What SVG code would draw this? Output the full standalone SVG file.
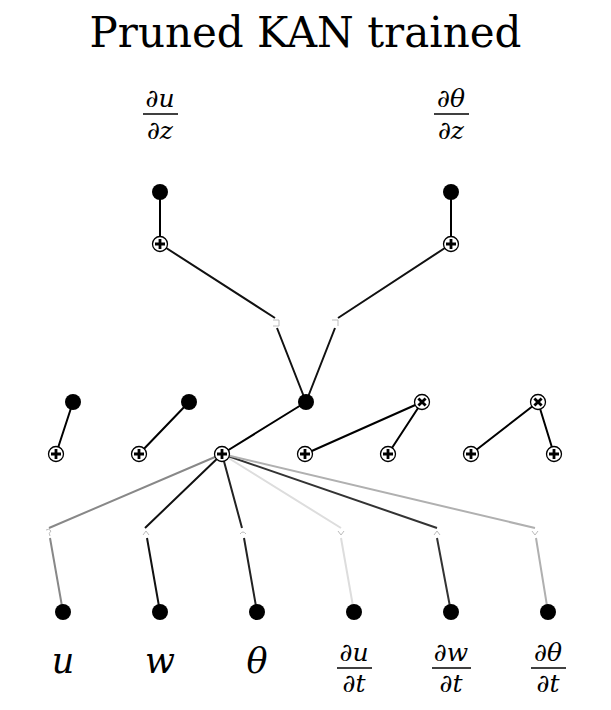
<svg xmlns="http://www.w3.org/2000/svg" width="611" height="710" viewBox="0 0 611 710">
<style>
.title{font-family:"DejaVu Serif","Liberation Serif",serif;font-size:42px;fill:#000}
.var{font-family:"DejaVu Serif","Liberation Serif",serif;font-style:italic;font-size:35px;fill:#000}
.frac{font-family:"DejaVu Serif","Liberation Serif",serif;font-style:italic;font-size:25px;fill:#000}
.bar{stroke:#000;stroke-width:1.6}
.dot{fill:#000}
.op{fill:#fff;stroke:#000;stroke-width:1.3}
.sym{stroke:#000;stroke-width:2.8;stroke-linecap:butt}
.e{fill:none;stroke-width:2}
.act{fill:none;stroke:#bbb;stroke-width:1}
</style>
<defs>
<g id="plus"><circle class="op" r="7.5"/><path class="sym" d="M-5,0H5M0,-5V5"/></g>
<g id="times"><circle class="op" r="7.5"/><path class="sym" d="M-3.6,-3.6L3.6,3.6M-3.6,3.6L3.6,-3.6"/></g>
</defs>
<rect width="611" height="710" fill="#fff"/>
<text class="title" x="305.5" y="47" text-anchor="middle">Pruned KAN trained</text>

<g id="connectors">
<path class="e" stroke="#888" d="M63,612L50,538M49,528L222,454"/>
<path class="e" stroke="#111" d="M160,612L147,538M145,528L222,454"/>
<path class="e" stroke="#222" d="M257,612L244,538M242,528L222,454"/>
<path class="e" stroke="#ddd" d="M354,612L341,538M341,528L222,454"/>
<path class="e" stroke="#333" d="M451,612L437,538M437,528L222,454"/>
<path class="e" stroke="#b0b0b0" d="M548,612L536,538M535,528L222,454"/>
<path class="e" stroke="#000" d="M56,454L73,402M139,454L189,402M222,454L306,402M305,454L422,402M388,454L422,402M471,454L538,402M554,454L538,402"/>
<path class="e" stroke="#111" d="M306,402L277,328M275,318L160,244M306,402L335,328M338,318L451,244"/>
<path class="e" stroke="#000" d="M160,244L160,192M451,244L451,192"/>
<path class="act" d="M46,530q3,-2 5,1q-3,2 -1,5"/>
<path class="act" d="M143,535l3,-4l3,4"/>
<path class="act" d="M240,534q3,-4 6,0"/>
<path class="act" d="M338,531l3,4l3,-4"/>
<path class="act" d="M434,535l3,-4l3,4"/>
<path class="act" d="M532,531l3,4l3,-4"/>
<path class="act" d="M273,320h6v6h-6"/>
<path class="act" d="M332,320h6v6"/>
</g>

<g id="in-u"><circle class="dot" cx="63" cy="612" r="8"/></g>
<g id="in-w"><circle class="dot" cx="160" cy="612" r="8"/></g>
<g id="in-theta"><circle class="dot" cx="257" cy="612" r="8"/></g>
<g id="in-dudt"><circle class="dot" cx="354" cy="612" r="8"/></g>
<g id="in-dwdt"><circle class="dot" cx="451" cy="612" r="8"/></g>
<g id="in-dthdt"><circle class="dot" cx="548" cy="612" r="8"/></g>

<g id="s1"><use href="#plus" x="56" y="454"/></g>
<g id="s2"><use href="#plus" x="139" y="454"/></g>
<g id="s3"><use href="#plus" x="222" y="454"/></g>
<g id="s4"><use href="#plus" x="305" y="454"/></g>
<g id="s5"><use href="#plus" x="388" y="454"/></g>
<g id="s6"><use href="#plus" x="471" y="454"/></g>
<g id="s7"><use href="#plus" x="554" y="454"/></g>

<g id="h1"><circle class="dot" cx="73" cy="402" r="8"/></g>
<g id="h2"><circle class="dot" cx="189" cy="402" r="8"/></g>
<g id="h3"><circle class="dot" cx="306" cy="402" r="8"/></g>
<g id="m1"><use href="#times" x="422" y="402"/></g>
<g id="m2"><use href="#times" x="538" y="402"/></g>

<g id="t1"><use href="#plus" x="160" y="244"/></g>
<g id="t2"><use href="#plus" x="451" y="244"/></g>
<g id="out1"><circle class="dot" cx="160" cy="192" r="8"/></g>
<g id="out2"><circle class="dot" cx="451" cy="192" r="8"/></g>

<g id="label-dudz">
<text class="frac" x="160" y="107" text-anchor="middle">∂u</text>
<line class="bar" x1="143" y1="114" x2="178" y2="114"/>
<text class="frac" x="160" y="139" text-anchor="middle">∂z</text>
</g>
<g id="label-dthdz">
<text class="frac" x="451" y="107" text-anchor="middle">∂θ</text>
<line class="bar" x1="434" y1="114" x2="469" y2="114"/>
<text class="frac" x="451" y="139" text-anchor="middle">∂z</text>
</g>

<g id="label-u"><text class="var" x="63" y="673" text-anchor="middle">u</text></g>
<g id="label-w"><text class="var" x="160" y="673" text-anchor="middle">w</text></g>
<g id="label-theta"><text class="var" x="257" y="673" text-anchor="middle">θ</text></g>
<g id="label-dudt">
<text class="frac" x="354" y="661" text-anchor="middle">∂u</text>
<line class="bar" x1="337" y1="668" x2="372" y2="668"/>
<text class="frac" x="354" y="692" text-anchor="middle">∂t</text>
</g>
<g id="label-dwdt">
<text class="frac" x="451" y="661" text-anchor="middle">∂w</text>
<line class="bar" x1="432" y1="668" x2="471" y2="668"/>
<text class="frac" x="451" y="692" text-anchor="middle">∂t</text>
</g>
<g id="label-dthdt">
<text class="frac" x="548" y="661" text-anchor="middle">∂θ</text>
<line class="bar" x1="531" y1="668" x2="566" y2="668"/>
<text class="frac" x="548" y="692" text-anchor="middle">∂t</text>
</g>
</svg>
